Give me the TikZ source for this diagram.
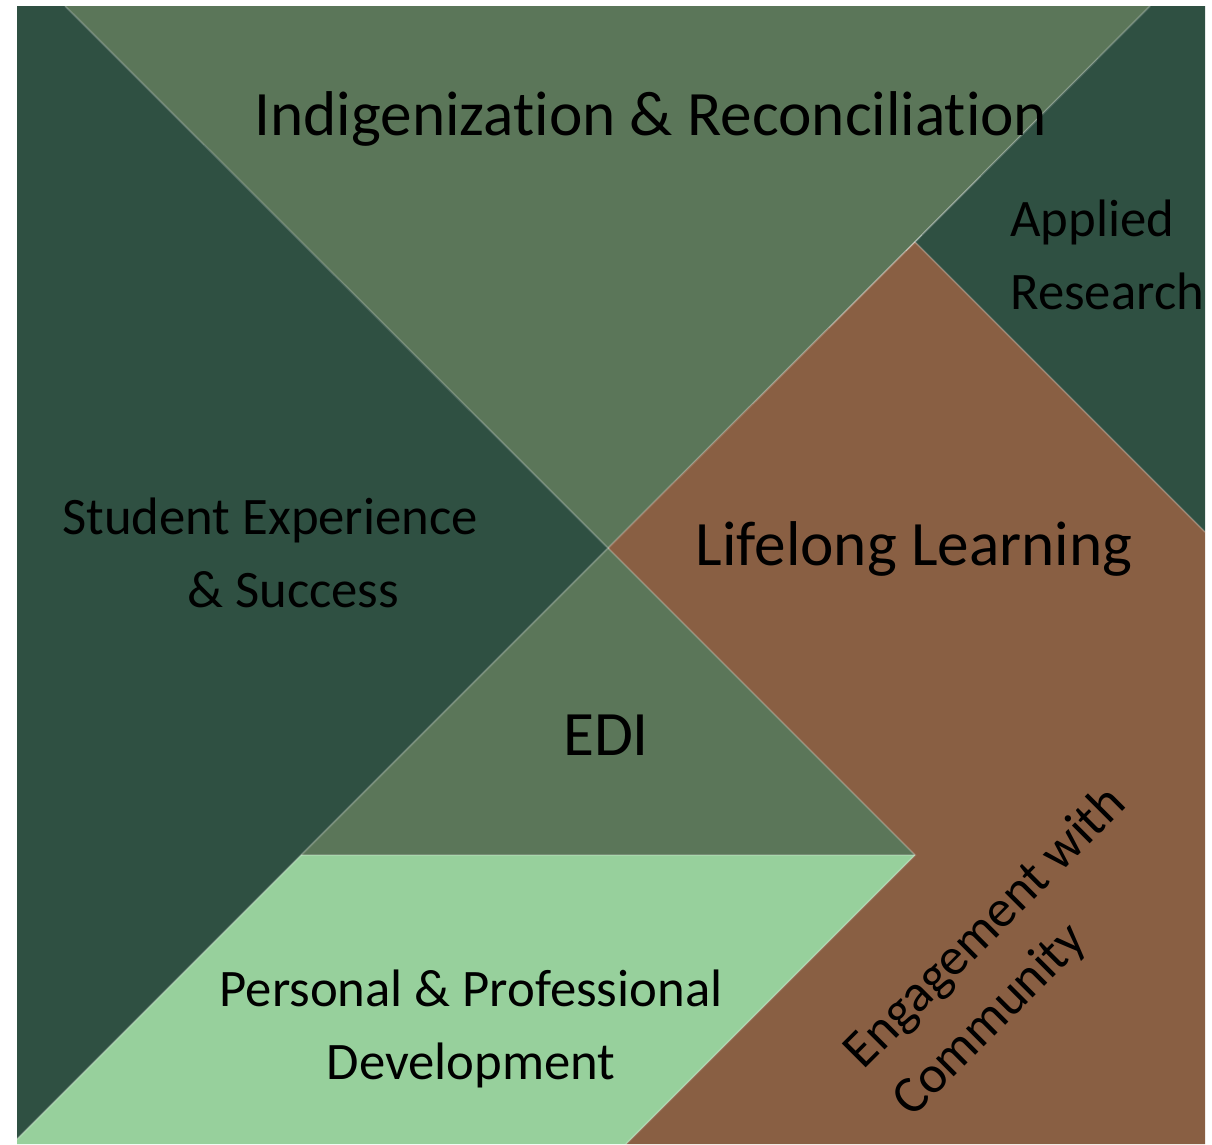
\documentclass[tikz,border=0pt]{standalone}
\usepackage{fontspec}
\setmainfont{Carlito}[Ligatures=NoCommon]
\definecolor{darkpine}{HTML}{2F5042}
\definecolor{sage}{HTML}{5B7659}
\definecolor{clay}{HTML}{895F43}
\definecolor{mint}{HTML}{97D09C}
\usetikzlibrary{calc}

\begin{document}
\begin{tikzpicture}[x=0.02cm, y=-0.02cm,
    seam/.style={draw=white, draw opacity=0.18, line width=1.2pt},
    areatext/.style={font=\fontsize{30}{41.5}\selectfont, align=center, inner sep=0pt},
    bigtext/.style={font=\fontsize{36}{44}\selectfont, inner sep=0pt}
]
    \useasboundingbox (0,0) rectangle (1212,1144);

    % outer square and the joints between the pieces
    \coordinate (nw) at (17,6);
    \coordinate (ne) at (1205,6);
    \coordinate (se) at (1205,1144);
    \coordinate (sw) at (17,1144);
    \coordinate (lowl) at (17,1139);
    \coordinate (hub) at (608,548);
    \coordinate (topl) at (65,6);
    \coordinate (topr) at (1150,6);
    \coordinate (notch) at (915,242);
    \coordinate (rside) at (1205,532);
    \coordinate (shelfl) at (301,855);
    \coordinate (shelfr) at (915,855);
    \coordinate (floor) at (626,1144);

    % pieces
    \fill[sage] (topl) -- (topr) -- (hub) -- cycle;
    \fill[darkpine] (nw) -- (topl) -- (hub) -- (lowl) -- cycle;
    \fill[darkpine] (topr) -- (ne) -- (rside) -- (notch) -- cycle;
    \fill[clay] (hub) -- (notch) -- (rside) -- (se) -- (floor) -- (shelfr) -- cycle;
    \fill[sage] (hub) -- (shelfr) -- (shelfl) -- cycle;
    \fill[mint] (shelfl) -- (shelfr) -- (floor) -- (sw) -- (lowl) -- cycle;

    % light seams along the cuts
    \draw[seam] (topl) -- (hub) -- (lowl);
    \draw[seam] (topr) -- (notch) -- (rside);
    \draw[seam] (hub) -- (notch);
    \draw[seam] (hub) -- (shelfr) -- (floor);
    \draw[seam] (shelfl) -- (shelfr);

    % labels (base = baseline of the last line)
    \begin{scope}
        \clip (nw) rectangle (se);
        \node[bigtext, anchor=base] (indig) at (651,135) {Indigenization \& Reconciliation};
        \node[areatext, align=left, anchor=base west] (applied) at (1010,309) {Applied\\Research};
        \node[areatext, align=left, anchor=base west] (student) at (62,607) {Student Experience\\\hspace*{2.5cm}\& Success};
        \node[bigtext, anchor=base] (lifelong) at (914,565) {Lifelong Learning};
        \node[bigtext, anchor=base] (edi) at (606,755) {EDI};
        \node[areatext, anchor=base] (personal) at (471,1079) {Personal \& Professional\\Development};
        \node[areatext, align=left, anchor=base west, rotate=45,
              font=\fontsize{30}{39}\selectfont] (engage) at (912,1119) {Engagement with\\Community};
    \end{scope}
\end{tikzpicture}
\end{document}
